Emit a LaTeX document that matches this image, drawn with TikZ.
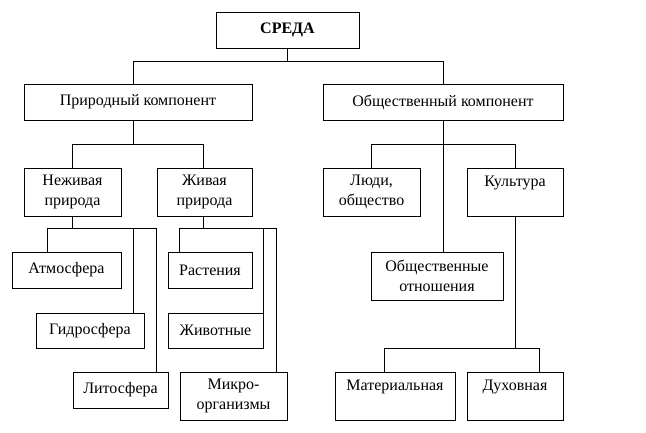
\documentclass[tikz,border=0pt]{standalone}
\usepackage{fontspec}
\setmainfont{Liberation Serif}
\usetikzlibrary{positioning}
\tikzset{
  box/.style={draw, line width=0.8pt, inner sep=0pt, align=center,
    font=\fontsize{16}{20}\selectfont},
  upper/.style={text height=18pt, text depth=30pt},
}
\begin{document}
\begin{tikzpicture}[x=1pt,y=-1pt,line width=0.8pt]
    \useasboundingbox (0,0) rectangle (646,432);
    \node[box,minimum width=143pt,minimum height=36pt,font=\fontsize{16}{20}\selectfont\bfseries] (sreda) at (287.5,30) {СРЕДА};
    \node[box,minimum width=228pt,minimum height=36pt] (prir) at (138,102) {Природный компонент};
    \node[box,minimum width=240pt,minimum height=36pt] (obsh) at (443,102) {Общественный компонент};
    \node[box,minimum width=97pt,minimum height=48pt] (nezh) at (72.5,192) {Неживая\\природа};
    \node[box,minimum width=95pt,minimum height=48pt] (zhiv) at (204.5,192) {Живая\\природа};
    \node[box,minimum width=97pt,minimum height=48pt] (lyudi) at (371.5,192) {Люди,\\общество};
    \node[box,upper,minimum width=96pt,minimum height=48pt] (kult) at (515,192) {Культура};
    \node[box,minimum width=109pt,minimum height=36pt] (atm) at (66.5,270) {Атмосфера};
    \node[box,minimum width=108pt,minimum height=35pt] (gidro) at (90,330.5) {Гидросфера};
    \node[box,minimum width=95pt,minimum height=36pt] (lito) at (120.5,390) {Литосфера};
    \node[box,minimum width=84pt,minimum height=36pt] (rast) at (210,270) {Растения};
    \node[box,minimum width=95pt,minimum height=35pt] (zhivot) at (215.5,330.5) {Животные};
    \node[box,minimum width=107pt,minimum height=48pt] (mikro) at (233.5,396) {Микро-\\организмы};
    \node[box,minimum width=132pt,minimum height=48pt] (otnosh) at (437,276) {Общественные\\отношения};
    \node[box,upper,minimum width=120pt,minimum height=48pt] (mater) at (395,396) {Материальная};
    \node[box,upper,minimum width=96pt,minimum height=48pt] (dukh) at (515,396) {Духовная};
    \draw (sreda.south) -- ++(0,13) -| ([xshift=-5pt]prir.north);
    \draw (sreda.south) -- ++(0,13) -| (obsh.north);
    \draw ([xshift=-5pt]prir.south) -- ++(0,24) -| (nezh.north);
    \draw ([xshift=-5pt]prir.south) -- ++(0,24) -| ([xshift=-1.5pt]zhiv.north);
    \draw (obsh.south) -- ++(0,24) -| (lyudi.north);
    \draw (obsh.south) -- ++(0,24) -| (kult.north);
    \draw (obsh.south) -- (obsh.south |- otnosh.north);
    \draw (nezh.south) -- ++(0,12) -| ([xshift=36pt]atm.north west);
    \draw (nezh.south) -- ++(0,12) -| ([xshift=-11pt]gidro.north east);
    \draw (nezh.south) -- ++(0,12) -| ([xshift=-12pt]lito.north east);
    \draw ([xshift=-1.5pt]zhiv.south) -- ++(0,12) -| ([xshift=12pt]rast.north west);
    \draw ([xshift=-1.5pt]zhiv.south) -- ++(0,12) -| (zhivot.north east);
    \draw ([xshift=-1.5pt]zhiv.south) -- ++(0,12) -| ([xshift=-11pt]mikro.north east);
    \draw (kult.south) -- ++(0,132) -| ([xshift=-11pt]mater.north);
    \draw (kult.south) -- ++(0,132) -| ([xshift=24pt]dukh.north);
\end{tikzpicture}
\end{document}
